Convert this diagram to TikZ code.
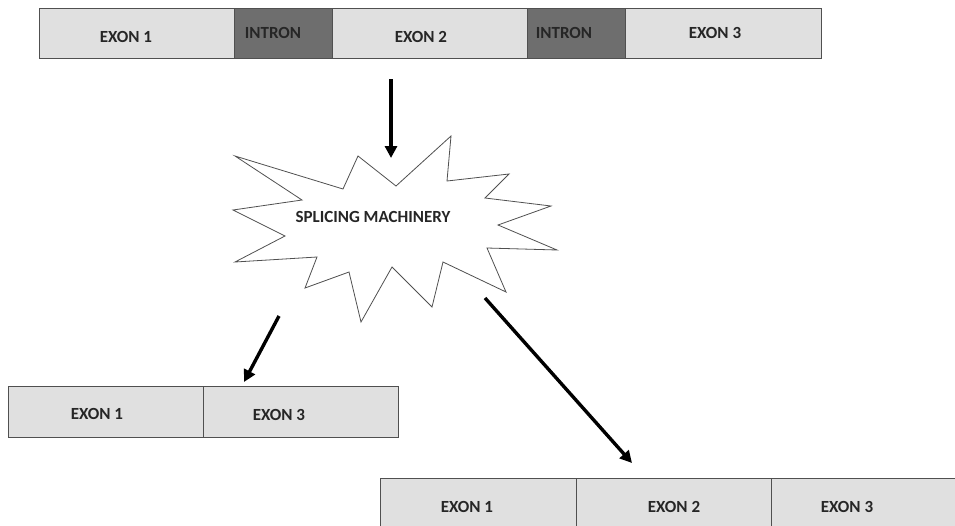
\documentclass[tikz,border=0pt]{standalone}
\usepackage{fontspec}
\setmainfont{Carlito}
\usetikzlibrary{arrows.meta}
\definecolor{exongray}{HTML}{E0E0E0}
\definecolor{introngray}{HTML}{6E6E6E}
\definecolor{edgegray}{HTML}{505050}
\tikzset{segment/.style={draw=edgegray, line width=0.8pt, minimum height=50pt, inner sep=0pt, anchor=north west}}
\tikzset{exon/.style={segment, fill=exongray}}
\tikzset{intron/.style={segment, fill=introngray}}
\tikzset{seglabel/.style={inner sep=0pt, text=black!85, font=\bfseries\fontsize{17}{17}\selectfont}}
\tikzset{fatarrow/.style={line width=3.4pt, -{Triangle[width=12pt, length=12pt]}}}

\begin{document}
\begin{tikzpicture}[x=1pt, y=-1pt]
    \useasboundingbox (0,0) rectangle (955,525);
    \clip (0,0) rectangle (955,525);
    % pre-mRNA
    \node[exon, minimum width=195pt] (topexA) at (39,8) {};
    \node[intron, minimum width=98pt] (topinA) at (234,8) {};
    \node[exon, minimum width=195pt] (topexB) at (332,8) {};
    \node[intron, minimum width=98pt] (topinB) at (527,8) {};
    \node[exon, minimum width=196pt] (topexC) at (625,8) {};
    \node[seglabel] (lblexA) at (126,37) {EXON 1};
    \node[seglabel] (lblinA) at (273,33) {INTRON};
    \node[seglabel] (lblexB) at (421,37) {EXON 2};
    \node[seglabel] (lblinB) at (564,33) {INTRON};
    \node[seglabel] (lblexC) at (715,33) {EXON 3};
    % splicing machinery
    \draw[draw=edgegray, line width=0.8pt, fill=white] (235,156) -- (343,189) -- (358,156) -- (396,186) -- (451,136)
        -- (447,181) -- (509,174) -- (485,198) -- (551,206) -- (498,225) -- (557,250) -- (487,248)
        -- (506,292) -- (443,262) -- (432,307) -- (392,267) -- (361,322) -- (349,272) -- (305,288)
        -- (317,257) -- (235,262) -- (285,236) -- (233,210) -- (302,200) -- cycle;
    \node[seglabel] (machinery) at (373,217) {SPLICING MACHINERY};
    % skipped exon 2
    \node[exon, minimum width=195pt, minimum height=51pt] (skipexA) at (8,386) {};
    \node[exon, minimum width=195pt, minimum height=51pt] (skipexC) at (203,386) {};
    \node[seglabel] (lblskipA) at (97,414) {EXON 1};
    \node[seglabel] (lblskipC) at (279,415) {EXON 3};
    % full transcript
    \node[exon, minimum width=196pt, minimum height=52pt] (fullexA) at (380,478) {};
    \node[exon, minimum width=195pt, minimum height=52pt] (fullexB) at (576,478) {};
    \node[exon, minimum width=195pt, minimum height=52pt] (fullexC) at (771,478) {};
    \node[seglabel] (lblfullA) at (467,507) {EXON 1};
    \node[seglabel] (lblfullB) at (674,507) {EXON 2};
    \node[seglabel] (lblfullC) at (847,507) {EXON 3};
    % arrows
    \coordinate (intop) at (391,79);
    \coordinate (inend) at (391,158);
    \coordinate (leftstart) at (279,316);
    \coordinate (leftend) at (244,382);
    \coordinate (rightstart) at (485,298);
    \coordinate (rightend) at (632,463);
    \draw[fatarrow] (intop) -- (inend);
    \draw[fatarrow] (leftstart) -- (leftend);
    \draw[fatarrow] (rightstart) -- (rightend);
\end{tikzpicture}
\end{document}
